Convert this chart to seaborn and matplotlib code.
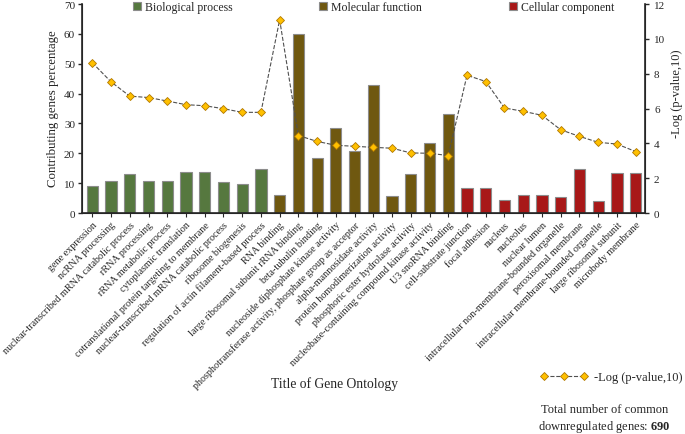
import matplotlib
matplotlib.use('Agg')
import matplotlib.pyplot as plt
import seaborn as sns
import pandas as pd
import numpy as np

# GO terms, in plotting order
terms = [
    'gene expression', 'ncRNA processing', 'nuclear-transcribed mRNA catabolic process',
    'rRNA processing', 'rRNA metabolic process', 'cytoplasmic translation',
    'cotranslational protein targeting to membrane', 'nuclear-transcribed mRNA catabolic process',
    'ribosome biogenesis', 'regulation of actin filament-based process',
    'RNA binding', 'large ribosomal subunit rRNA binding', 'beta-tubulin binding',
    'nucleoside diphosphate kinase activity', 'phosphotransferase activity, phosphate group as acceptor',
    'alpha-mannosidase activity', 'protein homodimerization activity', 'phosphoric ester hydrolase activity',
    'nucleobase-containing compound kinase activity', 'U3 snoRNA binding',
    'cell-substrate junction', 'focal adhesion', 'nucleus', 'nucleolus', 'nuclear lumen',
    'intracellular non-membrane-bounded organelle', 'peroxisomal membrane',
    'intracellular membrane-bounded organelle', 'large ribosomal subunit', 'microbody membrane',
]
groups = ['Biological process'] * 10 + ['Molecular function'] * 10 + ['Cellular component'] * 10
percentage = [9.0, 10.7, 13.2, 10.7, 10.8, 13.7, 13.6, 10.4, 9.7, 14.7,
              6.1, 60.0, 18.5, 28.5, 20.7, 42.8, 5.7, 13.2, 23.4, 33.2,
              8.5, 8.4, 4.3, 6.2, 6.1, 5.2, 14.9, 4.0, 13.5, 13.4]
neglogp = [8.63, 7.53, 6.71, 6.63, 6.43, 6.22, 6.16, 5.99, 5.78, 5.78,
           11.09, 4.45, 4.11, 3.89, 3.83, 3.77, 3.72, 3.45, 3.43, 3.30,
           7.91, 7.55, 6.03, 5.84, 5.61, 4.78, 4.40, 4.06, 3.96, 3.53]

colors = {'Biological process': '#548235', 'Molecular function': '#7F6000',
          'Cellular component': '#C00000'}

df = pd.DataFrame({'pos': np.arange(len(terms)), 'term': terms, 'group': groups,
                   'pct': percentage, 'logp': neglogp})

sns.set_style('ticks')
plt.rcParams['font.family'] = ['Liberation Serif', 'DejaVu Serif']
plt.rcParams['mathtext.fontset'] = 'custom'
plt.rcParams['mathtext.bf'] = 'Liberation Serif:bold'
plt.rcParams['mathtext.rm'] = 'Liberation Serif'

fig = plt.figure(figsize=(6.85, 4.35), dpi=100)
ax = fig.add_axes([0.1197, 0.508, 0.8219, 0.4805])

sns.barplot(data=df, x='pos', y='pct', hue='group', palette=colors, dodge=False,
            width=0.6, edgecolor='#8c8c8c', linewidth=0.8, ax=ax, legend=True)
ax.set_ylim(0, 70)
ax.set_yticks(range(0, 71, 10))
ax.set_xticks(df.pos)
ax.set_xticklabels(df.term, rotation=45, ha='right', rotation_mode='anchor', fontsize=7.3)
ax.tick_params(axis='y', labelsize=8, length=3, width=1, pad=2)
ax.tick_params(axis='x', length=3, width=0.8, pad=2)
ax.set_xlabel('')
ax.set_ylabel('')
for s in ['left', 'bottom']:
    ax.spines[s].set_linewidth(1.2)
ax.spines['top'].set_visible(False)

ax.legend(loc='center left', bbox_to_anchor=(0.082, 0.986), ncol=3, frameon=False,
          fontsize=8.5, handlelength=0.7, handleheight=0.7, handletextpad=0.35,
          columnspacing=7.3, borderaxespad=0)

ax2 = ax.twinx()
sns.lineplot(data=df, x='pos', y='logp', ax=ax2, color='#505050', linestyle='--',
             linewidth=0.8, marker='D', markersize=3.6, markerfacecolor='#FFC000',
             markeredgecolor='#B07800', markeredgewidth=0.6,
             label='-Log (p-value,10)', legend=False)
ax2.set_ylim(0, 12)
ax2.set_yticks(range(0, 13, 2))
ax2.tick_params(axis='y', labelsize=8, length=3, width=1)
ax2.set_ylabel('')
ax2.spines['right'].set_linewidth(1.2)
ax2.spines['top'].set_visible(False)
ax.set_xlim(-0.55, 29.5)

fig.text(0.078, 0.75, 'Contributing genes percentage', rotation=90, ha='center',
         va='center', fontsize=9.3)
fig.text(0.988, 0.785, '-Log (p-value,10)', rotation=90, ha='center', va='center',
         fontsize=9)
fig.text(0.488, 0.118, 'Title of Gene Ontology', ha='center', va='center', fontsize=9.8)

h, l = ax2.get_legend_handles_labels()
fig.legend(h, l, loc='center left', bbox_to_anchor=(0.781, 0.131), frameon=False, fontsize=9,
           numpoints=3, handlelength=3.8, handletextpad=0.56, borderaxespad=0)
fig.text(0.882, 0.0355, 'Total number of common\ndownregulated genes: $\\mathbf{690}$',
         ha='center', va='center', fontsize=9, linespacing=1.35)

fig.savefig('out.png', dpi=100)
